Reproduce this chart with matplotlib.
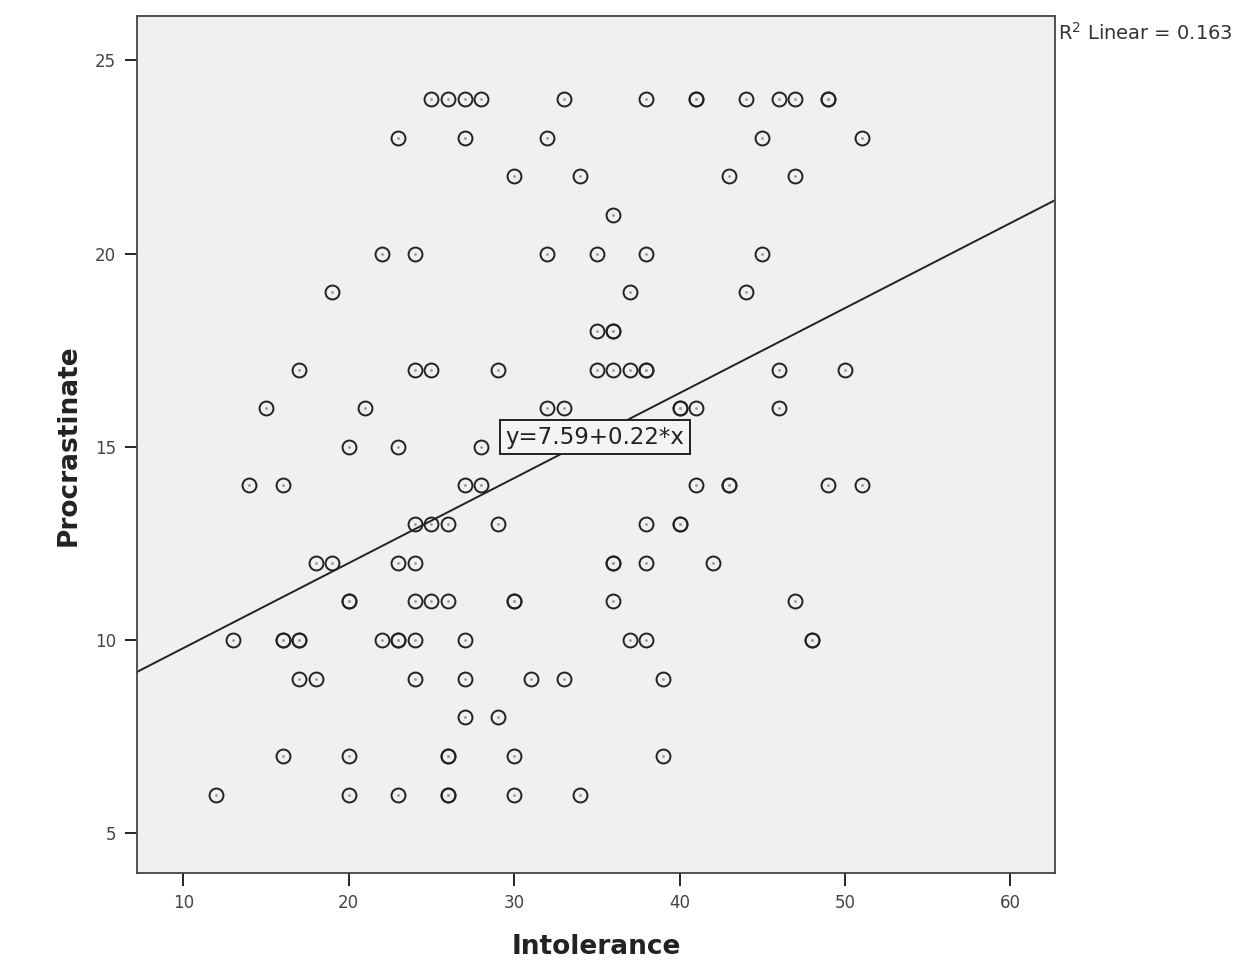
import matplotlib
matplotlib.use("Agg")
import matplotlib.pyplot as plt
import numpy as np

# points, one list per procrastinate level (duplicates repeated)
rows = {
    24: [25, 26, 27, 28, 33, 38, 41, 41, 44, 46, 47, 49, 49],
    23: [23, 27, 32, 45, 51],
    22: [30, 34, 43, 47],
    21: [36],
    20: [22, 24, 32, 35, 38, 45],
    19: [19, 37, 44],
    18: [35, 36, 36],
    17: [17, 24, 25, 29, 35, 36, 37, 38, 38, 46, 50],
    16: [15, 21, 32, 33, 40, 40, 41, 46],
    15: [20, 23, 28],
    14: [14, 16, 27, 28, 41, 43, 43, 49, 51],
    13: [24, 25, 26, 29, 38, 40, 40],
    12: [18, 19, 23, 24, 36, 36, 38, 42],
    11: [20, 20, 24, 25, 26, 30, 30, 36, 47],
    10: [13, 16, 16, 17, 17, 22, 23, 23, 24, 27, 37, 38, 48, 48],
    9: [17, 18, 24, 27, 31, 33, 39],
    8: [27, 29],
    7: [16, 20, 26, 26, 30, 39],
    6: [12, 20, 23, 26, 26, 30, 34],
}
intercept = 7.59
slope = 0.22
r2 = 0.163

x = np.array([v for k in rows for v in rows[k]], dtype=float)
y = np.array([k for k in rows for v in rows[k]], dtype=float)

fig = plt.figure(figsize=(12.34, 9.64), dpi=100)
fig.patch.set_facecolor("white")
ax = fig.add_axes([0.111, 0.0944, 0.744, 0.8886])
ax.set_facecolor("#f0f0f0")

ax.plot(x, y, "o", ms=10, mfc="none", mec="#222222", mew=1.4, zorder=3)
ax.plot(x, y, ".", ms=2, color="#999999", zorder=3)

xlo, xhi = 7.2, 62.7
xx = np.array([xlo, xhi])
ax.plot(xx, intercept + slope * xx, color="#222222", lw=1.4, zorder=2)

ax.set_xlim(xlo, xhi)
ax.set_ylim(3.97, 26.14)
ax.set_xticks([10, 20, 30, 40, 50, 60])
ax.set_yticks([5, 10, 15, 20, 25])
ax.tick_params(direction="out", length=9, width=1.2, labelsize=12,
               labelcolor="#444444", pad=6)
for s in ax.spines.values():
    s.set_color("#444444")
    s.set_linewidth(1.3)

ax.text(34.9, 15.25, "y=7.59+0.22*x", fontsize=16.5, ha="center", va="center",
        color="#222222", zorder=4,
        bbox=dict(boxstyle="square,pad=0.25", fc="#f4f4f4", ec="#222222", lw=1.4))

fig.text(0.857, 0.966, "R$^2$ Linear = %.3f" % r2, fontsize=14, color="#333333",
         ha="left", va="center")

ax.set_xlabel("Intolerance", fontsize=19, fontweight="bold", color="#222222", labelpad=16)
ax.set_ylabel("Procrastinate", fontsize=19, fontweight="bold", color="#222222", labelpad=10)

fig.savefig("out.png", dpi=100)
